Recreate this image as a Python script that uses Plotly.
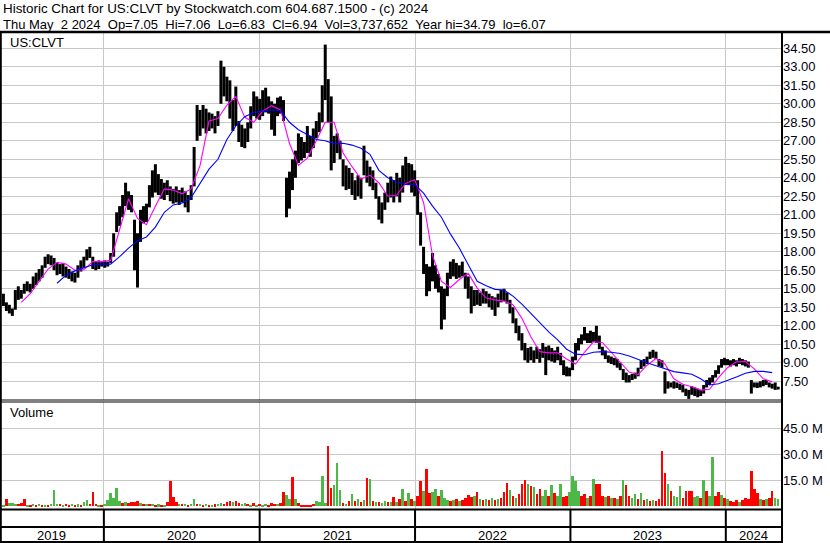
import pandas as pd
import plotly.graph_objects as go

# ---------------- data (weekly) ----------------
START = "2019-05-10"          # first weekly bar (Friday)

price_high = [
    14.6, 13.9, 13.7, 13.4, 14.9, 15.2, 14.9, 15.4, 15.6, 15.4,
    16.0, 16.3, 16.6, 16.9, 17.6, 17.8, 17.7, 17.5, 17.1, 17.0,
    17.1, 16.8, 16.6, 16.4, 16.3, 16.9, 17.3, 17.6, 18.2, 18.4,
    17.6, 17.2, 17.3, 17.2, 17.3, 17.2, 17.9, 19.5, 21.2, 21.7,
    22.6, 23.6, 22.9, 22.6, 20.6, 19.5, 21.4, 21.7, 21.9, 23.4,
    24.6, 25.1, 24.3, 23.9, 23.6, 23.8, 23.3, 23.1, 23.3, 23.0,
    23.2, 22.9, 22.6, 23.4, 26.5, 29.9, 29.5, 29.9, 29.6, 29.3,
    29.2, 29.0, 29.4, 33.5, 33.0, 32.2, 31.9, 30.3, 31.4, 28.6,
    28.3, 28.0, 28.5, 29.8, 31.0, 30.6, 30.4, 31.1, 31.3, 30.6,
    30.2, 30.0, 30.5, 30.6, 30.3, 24.0, 24.5, 25.5, 26.2, 27.6,
    27.3, 26.9, 28.2, 27.4, 28.0, 28.6, 29.3, 31.5, 34.8, 32.0,
    30.6, 27.4, 27.6, 27.0, 25.5, 25.0, 24.8, 24.4, 23.8, 24.2,
    24.0, 26.6, 25.4, 24.9, 24.6, 23.6, 22.5, 22.0, 22.8, 23.6,
    24.1, 23.8, 24.4, 24.0, 25.0, 25.7, 25.2, 25.1, 24.6, 23.8,
    21.2, 18.4, 17.0, 16.8, 17.9, 16.9, 16.2, 15.2, 15.0, 16.3,
    17.2, 17.4, 17.1, 16.9, 17.2, 16.3, 16.0, 15.2, 14.9, 14.9,
    14.7, 15.0, 14.8, 14.6, 14.4, 14.3, 14.6, 14.9, 15.0, 14.7,
    14.1, 13.5, 12.6, 12.0, 11.4, 10.6, 10.2, 10.3, 10.0, 10.3,
    10.1, 10.6, 10.3, 10.4, 10.2, 10.0, 10.3, 9.8, 9.2, 8.7,
    8.6, 9.5, 10.6, 11.0, 11.3, 11.9, 11.4, 11.6, 11.5, 12.0,
    11.2, 10.3, 10.0, 9.6, 9.5, 9.4, 9.3, 9.0, 8.5, 8.2,
    8.0, 8.1, 8.2, 8.6, 9.2, 9.3, 9.5, 9.9, 10.05, 9.9,
    9.3, 9.2, 8.3, 7.5, 7.4, 7.5, 7.4, 7.3, 7.2, 6.9,
    6.8, 7.1, 7.0, 6.9, 6.8, 7.2, 7.6, 7.8, 8.0, 8.4,
    8.8, 9.3, 9.4, 9.3, 9.2, 9.3, 9.2, 9.4, 9.3, 9.2,
    9.1, 7.6, 7.4, 7.4, 7.5, 7.6, 7.6, 7.4, 7.3, 7.4,
    7.06,
]

price_low = [
    13.6, 13.2, 13.0, 12.8, 13.3, 14.1, 14.2, 14.6, 14.8, 14.7,
    15.0, 15.3, 15.6, 15.9, 16.7, 17.0, 16.9, 16.5, 16.1, 16.2,
    16.0, 15.9, 15.8, 15.6, 15.5, 15.9, 16.4, 16.7, 17.3, 17.5,
    16.6, 16.5, 16.6, 16.8, 16.7, 16.8, 17.1, 17.6, 19.6, 20.1,
    20.8, 21.7, 21.4, 21.2, 16.5, 15.1, 18.8, 20.3, 20.4, 21.6,
    22.4, 22.8, 22.6, 22.3, 22.2, 22.6, 22.1, 21.9, 22.0, 21.8,
    22.0, 21.6, 21.2, 22.2, 23.3, 27.0, 27.4, 28.0, 27.6, 27.8,
    28.0, 27.6, 28.2, 30.0, 30.6, 30.2, 28.8, 27.8, 28.2, 26.9,
    26.5, 26.4, 26.9, 28.0, 29.0, 28.8, 28.7, 29.0, 29.3, 29.2,
    27.9, 27.4, 29.0, 29.2, 28.6, 20.8, 21.5, 23.0, 24.0, 25.2,
    25.4, 25.6, 26.0, 25.7, 26.4, 27.2, 27.7, 28.5, 30.3, 28.5,
    24.6, 25.2, 26.0, 25.5, 23.3, 23.0, 23.1, 22.6, 22.2, 22.5,
    22.3, 24.2, 23.6, 23.3, 23.0, 22.3, 20.6, 20.3, 21.4, 22.0,
    22.4, 22.0, 22.5, 22.0, 22.8, 23.5, 23.4, 22.8, 22.5, 21.0,
    18.5, 16.2, 14.4, 14.8, 15.6, 15.0, 14.7, 11.7, 12.5, 14.4,
    15.8, 16.0, 15.8, 15.9, 16.0, 15.0, 14.2, 13.0, 13.6, 13.7,
    13.6, 13.8, 13.8, 13.5, 13.3, 12.8, 13.5, 13.9, 14.0, 13.8,
    13.0, 12.2, 11.4, 10.8, 10.0, 9.2, 9.0, 9.2, 9.0, 9.3,
    9.0, 9.4, 8.0, 9.2, 9.1, 9.0, 9.2, 8.8, 8.0, 7.9,
    7.9, 8.4, 9.2, 10.0, 10.5, 10.8, 10.6, 10.6, 10.7, 10.6,
    10.1, 9.6, 9.3, 9.0, 8.9, 8.8, 8.6, 8.4, 7.6, 7.4,
    7.4, 7.6, 7.7, 7.9, 8.5, 8.7, 8.9, 9.3, 9.4, 9.3,
    8.7, 8.6, 6.5, 6.9, 7.0, 6.9, 6.95, 6.8, 6.6, 6.3,
    6.07, 6.4, 6.3, 6.2, 6.3, 6.5, 7.0, 7.2, 7.4, 7.8,
    8.1, 8.6, 8.8, 8.8, 8.7, 8.8, 8.7, 8.9, 8.8, 8.7,
    8.6, 6.5, 7.0, 6.95, 7.0, 7.1, 7.2, 7.0, 6.9, 6.8,
    6.83,
]

# moving averages, sampled every third week
ma_short = [
    None, None, 13.9, 14.6, 15.6, 16.6, 17.15, 17.0, 16.5, 16.55,
    17.2, 17.2, 17.3, 19.9, 22.3, 20.7, 20.2, 21.7, 23.1, 23.0,
    22.7, 23.1, 25.0, 28.6, 28.8, 29.9, 30.6, 28.9, 28.5, 29.4,
    29.85, 29.5, 26.8, 25.0, 25.6, 27.0, 28.5, 28.5, 26.0, 24.9,
    23.9, 24.2, 23.6, 22.5, 22.6, 23.55, 23.85, 22.0, 17.7, 15.6,
    15.1, 15.75, 16.25, 15.05, 14.25, 14.1, 14.0, 13.7, 12.6, 11.1,
    9.9, 9.8, 9.8, 9.3, 8.9, 9.85, 10.7, 10.65, 9.85, 9.05,
    8.25, 8.03, 8.8, 9.35, 8.9, 7.7, 7.25, 7.05, 6.78, 6.85,
    7.8, 8.6, 9.07, 9.1, 8.5, 7.7, 7.45,
]
ma_long = [
    None, None, None, None, None, None, 15.45, 16.1, 16.45, 16.7,
    16.95, 17.0, 17.0, 17.6, 18.3, 18.9, 19.2, 20.0, 21.2, 21.8,
    21.95, 22.4, 23.6, 24.7, 25.5, 27.1, 28.2, 28.95, 29.3, 29.4,
    29.5, 29.45, 28.5, 27.9, 27.5, 27.1, 27.0, 26.75, 26.8, 26.65,
    26.4, 25.9, 24.6, 24.0, 23.65, 23.45, 23.45, 22.75, 21.7, 20.8,
    19.45, 18.3, 16.95, 15.6, 15.25, 14.95, 14.9, 14.4, 13.75, 13.0,
    12.3, 11.5, 10.85, 10.1, 9.7, 9.65, 9.85, 9.9, 9.85, 9.75,
    9.55, 9.25, 9.0, 8.75, 8.5, 8.28, 8.18, 8.07, 7.7, 7.2,
    7.3, 7.55, 7.85, 8.15, 8.3, 8.3, 8.2,
]

volume_m = [
    1.0, 4.2, 1.7, 1.8, 1.5, 1.2, 2.1, 4.2, 1.0, 0.8,
    1.2, 0.9, 1.4, 1.0, 0.8, 1.0, 1.3, 9.4, 1.5, 1.3,
    1.0, 1.2, 0.8, 1.4, 1.0, 1.1, 0.9, 2.2, 3.7, 1.6,
    8.1, 1.5, 1.0, 0.8, 1.2, 3.5, 7.9, 4.6, 10.4, 3.2,
    1.7, 2.5, 2.0, 2.3, 2.5, 3.0, 2.0, 1.5, 1.6, 1.2,
    1.4, 1.0, 1.1, 0.9, 1.0, 2.5, 14.6, 5.6, 2.7, 1.5,
    1.2, 1.4, 1.0, 1.6, 4.2, 1.5, 1.3, 1.0, 1.2, 0.9,
    1.0, 1.1, 1.4, 1.8, 1.5, 2.2, 3.0, 2.5, 3.1, 2.0,
    1.5, 1.8, 1.2, 1.0, 1.7, 1.0, 1.2, 0.9, 1.3, 1.0,
    1.7, 1.4, 1.2, 2.0, 8.1, 6.5, 4.2, 16.9, 4.2, 2.0,
    0.6, 0.6, 0.5, 0.8, 1.2, 2.9, 2.5, 17.7, 2.0, 35.0,
    10.6, 12.1, 25.2, 9.6, 2.0, 1.5, 3.0, 7.3, 3.0, 4.0,
    2.5, 3.5, 16.3, 15.8, 3.0, 2.2, 2.5, 2.0, 3.0, 2.5,
    2.2, 5.4, 2.5, 4.0, 10.2, 3.0, 7.7, 4.0, 3.0, 6.0,
    14.8, 9.0, 21.5, 7.7, 8.0, 10.0, 6.0, 9.6, 5.0, 3.5,
    3.0, 3.5, 4.0, 3.0, 3.5, 5.0, 6.5, 5.5, 6.0, 8.3,
    4.0, 3.5, 4.5, 3.5, 5.0, 3.5, 4.0, 5.0, 8.1, 13.5,
    9.6, 6.0, 5.0, 7.0, 12.9, 15.2, 12.9, 11.5, 11.0, 7.0,
    10.0, 6.0, 9.6, 6.0, 12.5, 7.7, 6.0, 13.0, 5.5, 6.0,
    8.0, 17.3, 14.4, 9.0, 6.0, 7.0, 5.0, 6.0, 15.8, 12.9,
    12.9, 6.0, 5.5, 6.0, 5.0, 5.0, 4.0, 6.0, 15.4, 12.5,
    6.0, 5.0, 7.0, 4.0, 7.4, 3.5, 4.0, 3.0, 3.5, 3.0,
    4.0, 32.0, 19.2, 13.0, 8.7, 6.0, 5.5, 11.5, 5.0, 9.0,
    9.0, 8.7, 5.5, 6.0, 5.0, 15.0, 8.7, 6.0, 28.7, 6.0,
    8.0, 6.5, 5.0, 4.0, 3.0, 2.5, 3.5, 2.5, 3.5, 5.0,
    4.5, 20.6, 10.0, 7.7, 4.0, 3.5, 4.5, 5.0, 8.7, 4.8,
    4.5,
]
volume_dir = list(
    "grgggrrrgr" "grgrgrgggr" "grrgrgrggr" "rrgrgggggg" "rgrrrrgrgr"
    "grgrgrrrrg" "rgrggrgrgr" "grggrrrgrr" "ggrgrgrggr" "rrgrrggrgr"
    "rrrrrggggr" "rgggrgrgrg" "rgrgrgrggr" "grgrgrgrgr" "rgrrggrggg"
    "rgrgrrrrgr" "grgrgrgrrr" "grgrrrgrgr" "rggrgrggrr" "ggggrrgrgr"
    "rrgrgrgrgr" "rggrgrgrgr" "rrrgrgggrr" "rrggrgrggr" "rgrgrrrgrr"
    "rrrrgrgrrg" "g"
)

price_ticks = [7.5, 9.0, 10.5, 12.0, 13.5, 15.0, 16.5, 18.0, 19.5, 21.0, 22.5,
               24.0, 25.5, 27.0, 28.5, 30.0, 31.5, 33.0, 34.5]
volume_ticks = [15, 30, 45]
volume_tick_text = ["15.0 M", "30.0 M", "45.0 M"]
year_starts = ["2020-01-01", "2021-01-01", "2022-01-01", "2023-01-01", "2024-01-01"]
year_labels = ["2019", "2020", "2021", "2022", "2023", "2024"]
year_label_dates = ["2019-09-01", "2020-07-02", "2021-07-02", "2022-07-02", "2023-07-02", "2024-03-07"]

header1 = "Historic Chart for US:CLVT by Stockwatch.com 604.687.1500 - (c) 2024"
header2 = ("Thu May\u00a0\u00a02 2024\u00a0\u00a0Op=7.05\u00a0\u00a0Hi=7.06\u00a0\u00a0Lo=6.83"
           "\u00a0\u00a0Cl=6.94\u00a0\u00a0Vol=3,737,652\u00a0\u00a0Year hi=34.79\u00a0\u00a0lo=6.07")

# ---------------- figure ----------------
W, H = 830, 543
FONT = "Liberation Sans, Arial, sans-serif"
GRID = "#c8c8c8"


def px(x):
    return x / W


def py(y):
    return 1 - y / H


dates = pd.date_range(START, periods=len(price_high), freq="7D")
ma_dates = dates[::3]

bar_x, bar_y = [], []
for d, hi, lo in zip(dates, price_high, price_low):
    bar_x += [d, d, None]
    bar_y += [lo, hi, None]

fig = go.Figure()
fig.add_trace(go.Scatter(x=bar_x, y=bar_y, mode="lines",
                         line=dict(color="black", width=3),
                         xaxis="x", yaxis="y", hoverinfo="skip"))
fig.add_trace(go.Scatter(x=ma_dates, y=ma_short, mode="lines",
                         line=dict(color="#ff00ff", width=1.1),
                         xaxis="x", yaxis="y", connectgaps=False))
fig.add_trace(go.Scatter(x=ma_dates, y=ma_long, mode="lines",
                         line=dict(color="#0000ff", width=1.1),
                         xaxis="x", yaxis="y", connectgaps=False))

colour_map = {"r": "#ff0000", "g": "#4cb848"}
fig.add_trace(go.Bar(x=dates, y=volume_m,
                     marker=dict(color=[colour_map[c] for c in volume_dir], line=dict(width=0)),
                     width=6 * 86400000, xaxis="x2", yaxis="y2"))

x_range = ["2019-05-02", "2024-05-12"]
xdom = [0, px(782)]
common_x = dict(type="date", range=x_range, domain=xdom, tickvals=year_starts,
                showticklabels=False, showgrid=True, gridcolor=GRID, gridwidth=1,
                zeroline=False, showline=False, ticks="")

fig.update_layout(
    width=W, height=H,
    margin=dict(l=0, r=0, t=0, b=0),
    paper_bgcolor="white", plot_bgcolor="white",
    showlegend=False, bargap=0,
    font=dict(family=FONT, size=13, color="black"),
    xaxis=dict(anchor="y", **common_x),
    xaxis2=dict(anchor="y2", **common_x),
    yaxis=dict(domain=[py(400), py(33)], range=[5.98, 35.74], side="right",
               tickvals=price_ticks, tickformat=".2f", showgrid=True,
               gridcolor=GRID, gridwidth=1, zeroline=False, ticks="",
               tickfont=dict(family=FONT, size=13, color="#000010"), anchor="x"),
    yaxis2=dict(domain=[py(509), py(402)], range=[-1.56, 60.2], side="right",
                tickvals=volume_ticks, ticktext=volume_tick_text, showgrid=True,
                gridcolor=GRID, gridwidth=1, zeroline=False, ticks="",
                tickfont=dict(family=FONT, size=13, color="#000010"), anchor="x2"),
)

shapes = []


def hline(y, x0=0, x1=782, w=2):
    shapes.append(dict(type="line", xref="paper", yref="paper",
                       x0=px(x0), x1=px(x1), y0=py(y), y1=py(y),
                       line=dict(color="black", width=w)))


def vline(x, y0, y1, w=2):
    shapes.append(dict(type="line", xref="paper", yref="paper",
                       x0=px(x), x1=px(x), y0=py(y0), y1=py(y1),
                       line=dict(color="black", width=w)))


hline(32, 0, 830, 2.5)
hline(400, w=1)
hline(402, w=1)
hline(509.5)
hline(527)
hline(542)
vline(0.8, 32, 543, 2)
vline(782, 32, 543, 2)
for ys in year_starts:
    shapes.append(dict(type="line", xref="x", yref="paper", x0=ys, x1=ys,
                       y0=py(542), y1=py(509.5), line=dict(color="black", width=2)))
fig.update_layout(shapes=shapes)

ann = [
    dict(text=header1, x=px(1), y=py(8.5), size=13.4),
    dict(text=header2, x=px(1), y=py(24.5), size=13),
    dict(text="US:CLVT", x=px(8), y=py(42.5), size=13),
    dict(text="Volume", x=px(8), y=py(413), size=13),
]
annotations = []
for a in ann:
    annotations.append(dict(text=a["text"], x=a["x"], y=a["y"], xref="paper", yref="paper",
                            xanchor="left", yanchor="middle", showarrow=False,
                            font=dict(family=FONT, size=a["size"], color="black")))
for lab, d in zip(year_labels, year_label_dates):
    annotations.append(dict(text=lab, x=d, y=py(535), xref="x", yref="paper",
                            xanchor="center", yanchor="middle", showarrow=False,
                            font=dict(family=FONT, size=13, color="black")))
fig.update_layout(annotations=annotations)

fig.write_html("out.html", config={"displayModeBar": False},
               post_script="document.body.style.margin='0px';")
